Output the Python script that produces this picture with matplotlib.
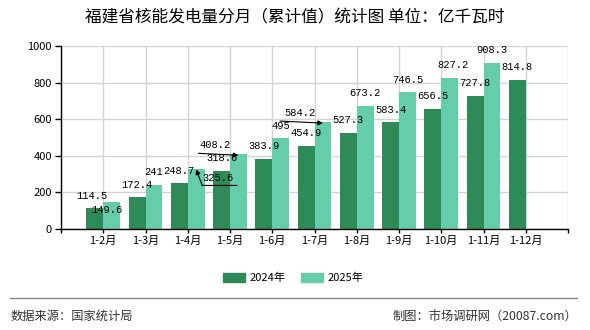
import matplotlib
matplotlib.use("Agg")
import matplotlib.pyplot as plt
import matplotlib.transforms as mtransforms
from matplotlib.lines import Line2D
import numpy as np

plt.rcParams['font.family'] = ['Noto Sans CJK SC', 'DejaVu Sans']

categories = ["1-2月", "1-3月", "1-4月", "1-5月", "1-6月", "1-7月",
              "1-8月", "1-9月", "1-10月", "1-11月", "1-12月"]
values_2024 = [114.5, 172.4, 248.7, 318.6, 383.9, 454.9, 527.3, 583.4, 656.5, 727.8, 814.8]
values_2025 = [149.6, 241, 325.6, 408.2, 495, 584.2, 673.2, 746.5, 827.2, 908.3]
series_names = ["2024年", "2025年"]
y_ticks = [0, 200, 400, 600, 800, 1000]
title = "福建省核能发电量分月（累计值）统计图 单位：亿千瓦时"
source_text = "数据来源：国家统计局"
credit_text = "制图：市场调研网（20087.com）"

c2024 = "#2E8B57"
c2025 = "#66CDAA"

W, H = 590, 330
fig = plt.figure(figsize=(W / 100, H / 100), dpi=100)
ax = fig.add_axes([61 / W, 1 - 229 / H, (568 - 61) / W, (229 - 46) / H])

bw = 0.4
x24 = np.arange(1, len(values_2024) + 1)
x25 = np.arange(1, len(values_2025) + 1)
b1 = ax.bar(x24 - bw / 2, values_2024, width=bw, color=c2024, zorder=2)
b2 = ax.bar(x25 + bw / 2, values_2025, width=bw, color=c2025, zorder=2)

ax.set_xlim(0, 12)
ax.set_ylim(0, 1000)
ax.set_yticks(y_ticks)
ax.set_xticks(np.arange(0, 13))
ax.set_xticklabels([""] + categories + [""])
ax.grid(True, color="#d4d4d4", linewidth=1.0, zorder=0)
ax.set_axisbelow(True)
for s in ["top", "right"]:
    ax.spines[s].set_visible(False)
for s in ["left", "bottom"]:
    ax.spines[s].set_color("black")
    ax.spines[s].set_linewidth(1.0)
ax.tick_params(axis="y", length=4.5, width=1, labelsize=8, pad=2, colors="black")
ax.tick_params(axis="x", length=3, width=1, labelsize=8, pad=2, colors="black")

# label offsets in pixels (layout, not data)
off24 = {0: (-3, 12)}
off25 = {0: (-5, -8), 2: (22, -9), 3: (-23, 9), 5: (-23, 9), 8: (3, 12.5)}

lab_font = dict(family=["Liberation Mono", "DejaVu Sans Mono"], fontsize=7.5, color="black")

def fmt(v):
    return ("%g" % v)

for i, v in enumerate(values_2024):
    dx, dy = off24.get(i, (0, 12.5))
    ax.annotate(fmt(v), xy=(x24[i] - bw / 2, v), xytext=(dx, dy),
                textcoords="offset pixels", ha="center", va="center", zorder=5, **lab_font)
for i, v in enumerate(values_2025):
    dx, dy = off25.get(i, (0, 12.5))
    ax.annotate(fmt(v), xy=(x25[i] + bw / 2, v), xytext=(dx, dy),
                textcoords="offset pixels", ha="center", va="center", zorder=5, **lab_font)

def off_tr(dx, dy):
    return ax.transData + mtransforms.ScaledTranslation(dx / 100, dy / 100, fig.dpi_scale_trans)

# 1-4 2025: underline under label then arrow up-left to bar top
i = 2; xb = x25[i] + bw / 2; v = values_2025[i]
ax.annotate("", xy=(xb, v), xycoords="data", xytext=(6, -16), textcoords="offset pixels",
            arrowprops=dict(arrowstyle="-|>", color="black", lw=0.8, mutation_scale=7,
                            shrinkA=0, shrinkB=0), zorder=6)
ax.annotate("", xy=(xb, v), xycoords=off_tr(6, -16), xytext=(35, 0), textcoords="offset pixels",
            arrowprops=dict(arrowstyle="-", color="black", lw=0.8, shrinkA=0, shrinkB=0), zorder=6)
# 1-5 2025 and 1-7 2025: underline with arrow pointing right to bar top
for i, l in ((3, -40), (5, -43)):
    xb = x25[i] + bw / 2; v = values_2025[i]
    ax.annotate("", xy=(xb, v), xycoords=off_tr(0, -1), xytext=(l, 2), textcoords="offset pixels",
                arrowprops=dict(arrowstyle="-|>", color="black", lw=0.8, mutation_scale=7,
                                shrinkA=0, shrinkB=0), zorder=6)

fig.text(0.5, 1 - 18 / H, title, ha="center", va="center", fontsize=12, color="black")

handles = [plt.Rectangle((0, 0), 1, 1, color=c2024), plt.Rectangle((0, 0), 1, 1, color=c2025)]
fig.legend(handles, series_names, loc="center", bbox_to_anchor=(293 / W, 1 - 278 / H), ncol=2,
           frameon=False, fontsize=8, handlelength=2.0, handleheight=0.9,
           handletextpad=0.4, columnspacing=1.4, borderpad=0)

fig.add_artist(Line2D([10 / W, 577 / W], [1 - 298 / H, 1 - 298 / H], color="#888888", lw=1.0,
                      transform=fig.transFigure))
fig.text(11 / W, 1 - 316 / H, source_text, ha="left", va="center", fontsize=8.8, color="#333333")
fig.text(577 / W, 1 - 316 / H, credit_text, ha="right", va="center", fontsize=8.8, color="#333333")

fig.savefig("out.png", dpi=100)
